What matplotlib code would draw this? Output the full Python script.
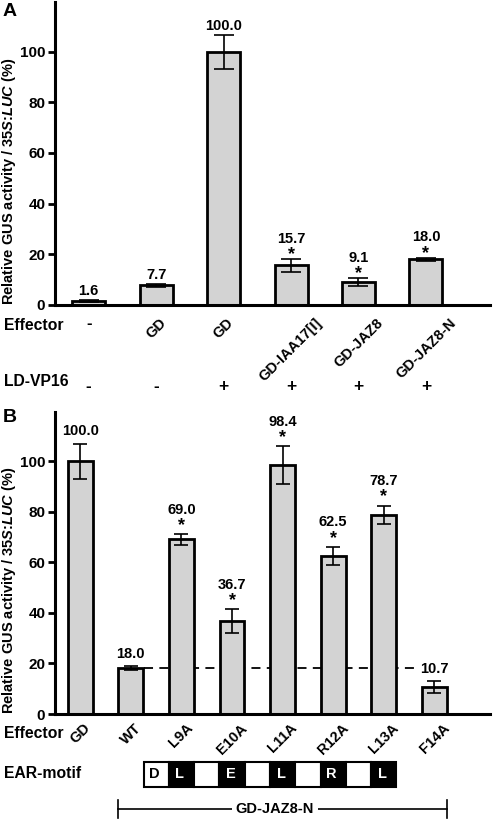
import matplotlib
matplotlib.use('Agg')
import matplotlib.pyplot as plt
from matplotlib.patches import Rectangle
from matplotlib.transforms import blended_transform_factory

plt.rcParams['font.family'] = 'Liberation Sans'
plt.rcParams['font.weight'] = 'bold'
plt.rcParams['mathtext.fontset'] = 'custom'
plt.rcParams['mathtext.rm'] = 'Liberation Sans:bold'
plt.rcParams['mathtext.it'] = 'Liberation Sans:italic:bold'

# panel A data
a_effector = ['-', 'GD', 'GD', 'GD-IAA17[I]', 'GD-JAZ8', 'GD-JAZ8-N']
a_ldvp16 = ['-', '-', '+', '+', '+', '+']
a_values = [1.6, 7.7, 100.0, 15.7, 9.1, 18.0]
a_errors = [0.3, 0.4, 6.7, 2.5, 1.5, 0.7]
a_star = [False, False, False, True, True, True]

# panel B data
b_effector = ['GD', 'WT', 'L9A', 'E10A', 'L11A', 'R12A', 'L13A', 'F14A']
b_values = [100.0, 18.0, 69.0, 36.7, 98.4, 62.5, 78.7, 10.7]
b_errors = [6.9, 0.8, 2.2, 4.7, 7.6, 3.6, 3.7, 2.2]
b_star = [False, False, True, True, True, True, True, False]
wt_level = 18.0

ear_letters = ['D', 'L', '', 'E', '', 'L', '', 'R', '', 'L']
ear_dark = [False, True, False, True, False, True, False, True, False, True]

W, H = 498, 819
fig = plt.figure(figsize=(W / 100, H / 100), dpi=100)

left = 55 / W
width = (490 - 55) / W


def style_axis(ax, ymax):
    ax.set_ylim(0, ymax)
    ax.set_yticks([0, 20, 40, 60, 80, 100])
    for s in ['top', 'right']:
        ax.spines[s].set_visible(False)
    for s in ['left', 'bottom']:
        ax.spines[s].set_linewidth(2.2)
    ax.tick_params(axis='y', length=5, width=2, labelsize=11, pad=2)
    ax.tick_params(axis='x', length=0)
    ax.set_ylabel(r'Relative GUS activity / $\mathit{35S}$:$\mathit{LUC}$ (%)',
                  fontsize=10.5, fontweight='bold')
    ax.yaxis.set_label_coords(-0.085, 0.41)


def draw_bars(ax, values, errors, stars, capsize, star_off, lab_off, lab_star_off):
    x = list(range(len(values)))
    ax.bar(x, values, width=0.49, color='#d3d3d3', edgecolor='black',
           linewidth=2, zorder=2)
    ax.errorbar(x, values, yerr=errors, fmt='none', ecolor='black',
                elinewidth=1.2, capsize=capsize, capthick=1.2, zorder=3)
    for i, (v, e, s) in enumerate(zip(values, errors, stars)):
        top = v + e
        off = lab_off
        if s:
            ax.annotate('*', (i, top), xytext=(0, star_off), textcoords='offset points',
                        ha='center', va='bottom', fontsize=13, fontweight='bold')
            off = lab_star_off
        ax.annotate(f'{v:.1f}', (i, top), xytext=(0, off), textcoords='offset points',
                    ha='center', va='bottom', fontsize=10.5, fontweight='bold')


# ---- panel A ----
axA = fig.add_axes([left, 1 - 305 / H, width, 303 / H])
style_axis(axA, 119.6)
draw_bars(axA, a_values, a_errors, a_star, 7, -3, 1.5, 9.5)
axA.set_xlim(-0.5, 5.95)
axA.set_xticks(range(len(a_effector)))
labs = axA.set_xticklabels(a_effector, rotation=45, ha='center', va='top', fontsize=10.5)
axA.tick_params(axis='x', pad=8)
labs[0].set_rotation(0)
labs[0].set_fontsize(12)
tA = blended_transform_factory(axA.transData, fig.transFigure)
for i, s in enumerate(a_ldvp16):
    axA.text(i, 1 - 387 / H, s, transform=tA, ha='center', va='center',
             fontsize=12.5, fontweight='bold')
fig.text(4 / W, 1 - 326 / H, 'Effector', ha='left', va='center', fontsize=11.3)
fig.text(4 / W, 1 - 381 / H, 'LD-VP16', ha='left', va='center', fontsize=11.3)
fig.text(3 / W, 1 - 11 / H, 'A', ha='left', va='center', fontsize=14)

# ---- panel B ----
axB = fig.add_axes([left, 1 - 714 / H, width, 302 / H])
style_axis(axB, 119.4)
draw_bars(axB, b_values, b_errors, b_star, 5, 0, 4, 12.5)
axB.set_xlim(-0.5, 8.1)
axB.plot([1.25, 6.7], [wt_level, wt_level], color='black', lw=1.3,
         linestyle=(0, (5, 3.5)), zorder=1)
axB.set_xticks(range(len(b_effector)))
axB.set_xticklabels(b_effector, rotation=45, ha='center', va='top', fontsize=10.5)
axB.tick_params(axis='x', pad=5)
fig.text(4 / W, 1 - 734 / H, 'Effector', ha='left', va='center', fontsize=11.3)
fig.text(4 / W, 1 - 773 / H, 'EAR-motif', ha='left', va='center', fontsize=11.3)
fig.text(3 / W, 1 - 418 / H, 'B', ha='left', va='center', fontsize=14)

# ---- EAR motif + bracket ----
axC = fig.add_axes([left, 0, width, 80 / H])
axC.set_xlim(axB.get_xlim())
axC.set_ylim(0, 80)
axC.axis('off')
for i, (letter, dark) in enumerate(zip(ear_letters, ear_dark)):
    x0 = 1.25 + 0.5 * i
    axC.add_patch(Rectangle((x0, 32), 0.5, 25, facecolor='black' if dark else 'white',
                            edgecolor='black', linewidth=1.5))
    if letter:
        axC.text(x0 + 0.22, 44.5, letter, ha='center', va='center', fontsize=10.5,
                 color='white' if dark else 'black')
axC.plot([0.75, 7.25], [10, 10], color='black', lw=1.2)
axC.plot([0.75, 0.75], [1, 19], color='black', lw=1.2)
axC.plot([7.25, 7.25], [1, 19], color='black', lw=1.2)
axC.text(3.85, 10, 'GD-JAZ8-N', ha='center', va='center', fontsize=10.5,
         bbox=dict(facecolor='white', edgecolor='none', pad=3))

fig.savefig('out.png', dpi=100)
